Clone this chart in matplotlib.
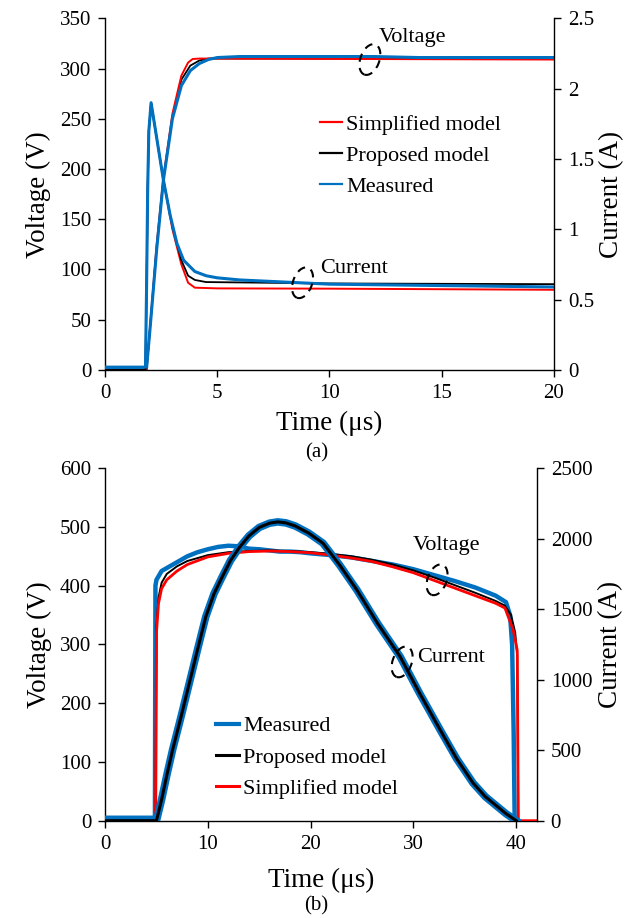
import matplotlib
matplotlib.use("Agg")
import matplotlib.pyplot as plt
from matplotlib.patches import Ellipse
from matplotlib.transforms import ScaledTranslation

plt.rcParams['font.family'] = ['Liberation Serif', 'DejaVu Serif']

BLUE = '#0070C0'
RED = '#FF0000'
BLACK = '#000000'

# ---------------- (a) data ----------------
ta_v_meas = [0, 1.85, 2.0, 2.3, 2.6, 3.0, 3.4, 3.8, 4.2, 4.6, 5.0, 6, 8, 10, 12, 14, 16, 18, 20]
va_meas = [2, 2, 40, 120, 189, 250, 283, 298, 305, 309, 311, 312, 312, 312, 312, 311, 311, 311, 311]
ta_v_simp = [0, 1.85, 2.3, 2.6, 3.0, 3.4, 3.7, 3.9, 4.2, 20]
va_simp = [0, 0, 125, 192, 255, 293, 306, 309.5, 310, 309]
ta_v_prop = [0, 1.85, 2.3, 2.6, 3.0, 3.4, 3.8, 4.2, 4.6, 5, 20]
va_prop = [0, 0, 122, 190, 252, 289, 303, 308, 310, 310, 310]

ta_i_meas = [0, 1.8, 1.85, 1.9, 1.95, 2.05, 2.2, 2.4, 2.6, 2.9, 3.2, 3.5, 4.0, 4.5, 5, 6, 8, 10, 15, 20]
ia_meas = [0.02, 0.02, 0.6, 1.3, 1.7, 1.9, 1.75, 1.55, 1.35, 1.1, 0.9, 0.78, 0.70, 0.67, 0.655, 0.64, 0.625, 0.61, 0.60, 0.59]
ta_i_simp = [0, 1.8, 1.85, 1.9, 1.95, 2.05, 2.2, 2.4, 2.6, 3.0, 3.4, 3.7, 4.0, 5, 10, 20]
ia_simp = [0, 0, 0.6, 1.3, 1.7, 1.9, 1.75, 1.55, 1.35, 1.0, 0.75, 0.62, 0.585, 0.58, 0.578, 0.57]
ta_i_prop = [0, 1.8, 1.85, 1.9, 1.95, 2.05, 2.2, 2.4, 2.6, 3.0, 3.4, 3.7, 4.0, 4.5, 10, 20]
ia_prop = [0, 0, 0.6, 1.3, 1.7, 1.9, 1.75, 1.55, 1.35, 1.02, 0.78, 0.67, 0.64, 0.625, 0.615, 0.61]

# ---------------- (b) data ----------------
tb_v_meas = [0, 4.85, 4.9, 5.0, 5.5, 6, 7, 8, 9, 10, 11, 12, 13, 14, 15, 16, 17, 18, 19, 20,
             22, 24, 26, 28, 30, 32, 34, 36, 38, 39, 39.4, 39.6, 39.75, 39.85]
vb_meas = [5, 5, 400, 410, 425, 430, 440, 450, 457, 462, 466, 468, 467, 463, 462, 460, 458, 458, 457, 455,
           452, 448, 442, 436, 428, 418, 408, 397, 383, 372, 350, 300, 150, 0]
tb_v_prop = [0, 4.9, 5.0, 5.2, 5.5, 6, 7, 8, 10, 12, 14, 16, 18, 20, 22, 24, 26, 28, 30, 32, 34, 36, 38,
             38.9, 39.5, 39.9, 40.1, 40.2]
vb_prop = [0, 0, 330, 380, 405, 420, 433, 442, 452, 457, 459, 460, 459, 457, 454, 450, 444, 436, 426,
           414, 401, 388, 374, 366, 350, 320, 280, 0]
tb_v_simp = [0, 4.9, 5.0, 5.2, 5.5, 6, 7, 8, 10, 12, 14, 16, 18, 20, 22, 24, 26, 28, 30, 32, 34, 36, 38,
             38.9, 39.7, 40.1, 40.2, 42]
vb_simp = [0, 0, 320, 370, 395, 410, 425, 436, 449, 455, 458, 459, 458, 456, 452, 447, 441, 432, 422,
           409, 396, 383, 370, 362, 325, 290, 0, 0]

tb_i = [0, 5.0, 5.5, 6.0, 6.57, 7.4, 8.2, 9.0, 9.8, 10.6, 11.4, 12.2, 13.1, 14.0, 15, 16, 16.8, 17.6,
        18.5, 19.8, 21.2, 22.8, 24.5, 26.5, 28.7, 30.6, 32.6, 34.2, 35.8, 37, 38, 39, 40]
ib_meas = [0, 0, 150, 320, 503, 740, 977, 1215, 1447, 1610, 1730, 1845, 1941, 2020, 2080, 2110, 2119, 2112,
           2090, 2040, 1968, 1815, 1636, 1400, 1164, 904, 644, 440, 267, 170, 110, 50, 0]
ib_prop = [0, 0, 150, 320, 503, 740, 977, 1215, 1447, 1610, 1730, 1845, 1941, 2020, 2080, 2110, 2119, 2112,
           2090, 2040, 1968, 1815, 1636, 1400, 1164, 904, 644, 440, 267, 170, 110, 50, 0]

fig = plt.figure(figsize=(6.33, 9.18), dpi=100)

TICK_FS = 15
LAB_FS = 19.5
LEG_FS = 16


def style(ax, axr):
    for a in (ax, axr):
        a.spines['top'].set_visible(False)
        for s in a.spines.values():
            s.set_linewidth(1.0)
        a.tick_params(direction='out', length=5, width=1.0, labelsize=TICK_FS, pad=5)
    ax.spines['right'].set_visible(False)
    axr.spines['left'].set_visible(False)
    axr.spines['bottom'].set_visible(False)


def dashed_ellipse(ax, x, y):
    tr = fig.dpi_scale_trans + ScaledTranslation(x, y, ax.transData)
    e = Ellipse((0, 0), 0.19, 0.32, angle=-20, transform=tr, fill=False,
                ls=(0, (4, 3)), lw=1.5, color='black', zorder=10)
    ax.add_patch(e)


# ---------------- (a) ----------------
ax1 = fig.add_axes([0.166, 0.597, 0.709, 0.383])
ax1r = ax1.twinx()
ax1.plot(ta_v_meas, va_meas, color=BLUE, lw=2.2, zorder=3)
ax1.plot(ta_v_prop, va_prop, color=BLACK, lw=1.3, zorder=2)
ax1.plot(ta_v_simp, va_simp, color=RED, lw=1.4, zorder=2)
ax1r.plot(ta_i_simp, ia_simp, color=RED, lw=1.4, label='Simplified model')
ax1r.plot(ta_i_prop, ia_prop, color=BLACK, lw=1.3, label='Proposed model')
ax1r.plot(ta_i_meas, ia_meas, color=BLUE, lw=2.2, label='Measured')
ax1.set_xlim(0, 20)
ax1.set_ylim(0, 350)
ax1r.set_ylim(0, 2.5)
ax1.set_xticks([0, 5, 10, 15, 20])
ax1.set_yticks(range(0, 351, 50))
ax1r.set_yticks([0, 0.5, 1, 1.5, 2, 2.5])
ax1r.set_yticklabels(['0', '0.5', '1', '1.5', '2', '2.5'])
style(ax1, ax1r)
ax1.set_xlabel('Time (μs)', fontsize=LAB_FS, labelpad=6)
ax1.set_ylabel('Voltage (V)', fontsize=LAB_FS, labelpad=6)
ax1r.set_ylabel('Current (A)', fontsize=LAB_FS, labelpad=4)
leg1 = ax1r.legend(loc='center left', bbox_to_anchor=(0.478, 0.61), frameon=False, fontsize=LEG_FS,
                   handlelength=1.0, handletextpad=0.2, labelspacing=0.48, borderaxespad=0,
                   borderpad=0)
for ln in leg1.get_lines():
    ln.set_linewidth(1.6)
dashed_ellipse(ax1, 11.8, 309)
ax1.text(12.2, 331, 'Voltage', fontsize=LEG_FS, ha='left', va='center')
dashed_ellipse(ax1r, 8.8, 0.62)
ax1r.text(9.6, 0.72, 'Current', fontsize=LEG_FS, ha='left', va='center')
fig.text(0.5, 1 - 453 / 918, '(a)', fontsize=TICK_FS, ha='center', va='center')

# ---------------- (b) ----------------
ax2 = fig.add_axes([0.166, 0.106, 0.682, 0.384])
ax2r = ax2.twinx()
ax2.plot(tb_v_meas, vb_meas, color=BLUE, lw=3.2, zorder=3)
ax2.plot(tb_v_prop, vb_prop, color=BLACK, lw=1.4, zorder=4)
ax2.plot(tb_v_simp, vb_simp, color=RED, lw=2.0, zorder=5)
ax2r.plot(tb_i, ib_meas, color=BLUE, lw=5.5, label='Measured')
ax2r.plot(tb_i, ib_prop, color=BLACK, lw=2.2, label='Proposed model')
ax2r.plot([], [], color=RED, lw=2.2, label='Simplified model')
ax2.set_xlim(0, 42)
ax2.set_ylim(0, 600)
ax2r.set_ylim(0, 2500)
ax2.set_xticks([0, 10, 20, 30, 40])
ax2.set_yticks(range(0, 601, 100))
ax2r.set_yticks(range(0, 2501, 500))
style(ax2, ax2r)
ax2.set_xlabel('Time (μs)', fontsize=LAB_FS, labelpad=10)
ax2.set_ylabel('Voltage (V)', fontsize=LAB_FS, labelpad=6)
ax2r.set_ylabel('Current (A)', fontsize=LAB_FS, labelpad=4)
leg2 = ax2r.legend(loc='center left', bbox_to_anchor=(0.258, 0.18), frameon=False, fontsize=LEG_FS,
                   handlelength=1.0, handletextpad=0.2, labelspacing=0.48, borderaxespad=0,
                   borderpad=0)
for ln, w in zip(leg2.get_lines(), [3.0, 2.2, 2.2]):
    ln.set_linewidth(w)
dashed_ellipse(ax2, 32.3, 410)
ax2.text(29.9, 469, 'Voltage', fontsize=LEG_FS, ha='left', va='center')
dashed_ellipse(ax2r, 28.9, 1126)
ax2r.text(30.4, 1154, 'Current', fontsize=LEG_FS, ha='left', va='center')
fig.text(0.5, 1 - 906 / 918, '(b)', fontsize=TICK_FS, ha='center', va='center')

fig.savefig('out.png', dpi=100)
